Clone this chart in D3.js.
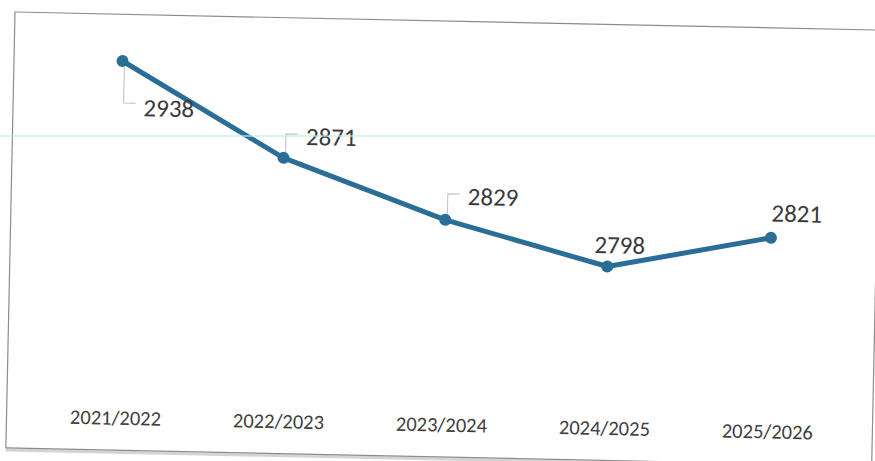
<!DOCTYPE html>
<html>
<head>
<meta charset="utf-8">
<script src="https://cdn.jsdelivr.net/npm/d3@7"></script>
<style>
  body { margin: 0; background: #fff; }
  svg { display: block; }
</style>
</head>
<body>
<svg id="chart" width="875" height="461"></svg>
<script>
// chart values
let years = ["2021/2022", "2022/2023", "2023/2024", "2024/2025", "2025/2026"];
let students = [2938, 2871, 2829, 2798, 2821];

// where each value label sits next to its point (dx, dy, anchor, leader line or not)
let labelPos = [
    { dx: 22, dy: 46, anchor: "start", leader: "down" },
    { dx: 22, dy: -22, anchor: "start", leader: "up" },
    { dx: 22, dy: -24, anchor: "start", leader: "up" },
    { dx: 12, dy: -22, anchor: "middle", leader: null },
    { dx: 0, dy: -25, anchor: "start", leader: null }
];

let frame = { x: 15, y: 12, width: 866, height: 436, tilt: 1.2 };
let plot = { left: 27, right: 842, top: 30, bottom: 309 };

let svg = d3.select("#chart");

// the whole chart is a little tilted, like on the scan
let page = svg.append("g")
    .attr("transform", `translate(${frame.x},${frame.y}) rotate(${frame.tilt})`);

// frame with a soft shadow at the bottom
page.append("line")
    .attr("x1", 0).attr("x2", frame.width)
    .attr("y1", frame.height + 2).attr("y2", frame.height + 2)
    .attr("stroke", "#d4d4d4").attr("stroke-width", 3);
page.append("rect")
    .attr("width", frame.width).attr("height", frame.height)
    .attr("fill", "#fff")
    .attr("stroke", "#8c8c8c")
    .attr("stroke-width", 1.2);

let xScale = d3.scalePoint()
    .domain(years)
    .range([plot.left, plot.right])
    .padding(0.5);

let yScale = d3.scaleLinear()
    .domain([2750, 2950])
    .range([plot.bottom, plot.top]);

// category labels only, no axis line or ticks
let xAxis = page.append("g")
    .attr("transform", `translate(0,${frame.height - 40})`)
    .call(d3.axisBottom(xScale).tickSize(0).tickPadding(0));
xAxis.select(".domain").remove();
xAxis.selectAll("text")
    .attr("font-family", "Carlito, 'Open Sans', sans-serif")
    .attr("font-size", 20.5)
    .attr("fill", "#404040");

let data = years.map((y, i) => ({ year: y, value: students[i], pos: labelPos[i] }));

let lineGenerator = d3.line()
    .x(d => xScale(d.year))
    .y(d => yScale(d.value));

// leader lines
page.selectAll(".leader")
    .data(data.filter(d => d.pos.leader))
    .enter().append("path")
    .attr("class", "leader")
    .attr("fill", "none")
    .attr("stroke", "#c8c8c8")
    .attr("stroke-width", 1.2)
    .attr("d", d => {
        let px = xScale(d.year) + 2;
        let py = yScale(d.value);
        let ly = py + d.pos.dy - (d.pos.leader == "down" ? 4 : 2);
        let start = d.pos.leader == "down" ? py + 6 : py - 6;
        return `M${px},${start} L${px},${ly} L${xScale(d.year) + d.pos.dx - 8},${ly}`;
    });

page.append("path")
    .datum(data)
    .attr("fill", "none")
    .attr("stroke", "#2a6e97")
    .attr("stroke-width", 5)
    .attr("stroke-linejoin", "round")
    .attr("d", lineGenerator);

page.selectAll(".dot")
    .data(data)
    .enter().append("circle")
    .attr("class", "dot")
    .attr("cx", d => xScale(d.year))
    .attr("cy", d => yScale(d.value))
    .attr("r", 6)
    .attr("fill", "#2a6e97");

page.selectAll(".value")
    .data(data)
    .enter().append("text")
    .attr("class", "value")
    .attr("x", d => xScale(d.year) + d.pos.dx)
    .attr("y", d => yScale(d.value) + d.pos.dy)
    .attr("dy", "0.35em")
    .attr("text-anchor", d => d.pos.anchor)
    .attr("font-family", "Carlito, 'Open Sans', sans-serif")
    .attr("font-size", 25)
    .attr("fill", "#3a3a3a")
    .text(d => d.value);

// faint scan line across the page
svg.append("line")
    .attr("x1", 0).attr("x2", 875)
    .attr("y1", 136).attr("y2", 136)
    .attr("stroke", "#bfeaea")
    .attr("stroke-opacity", 0.6)
    .attr("stroke-width", 2);
</script>
</body>
</html>
